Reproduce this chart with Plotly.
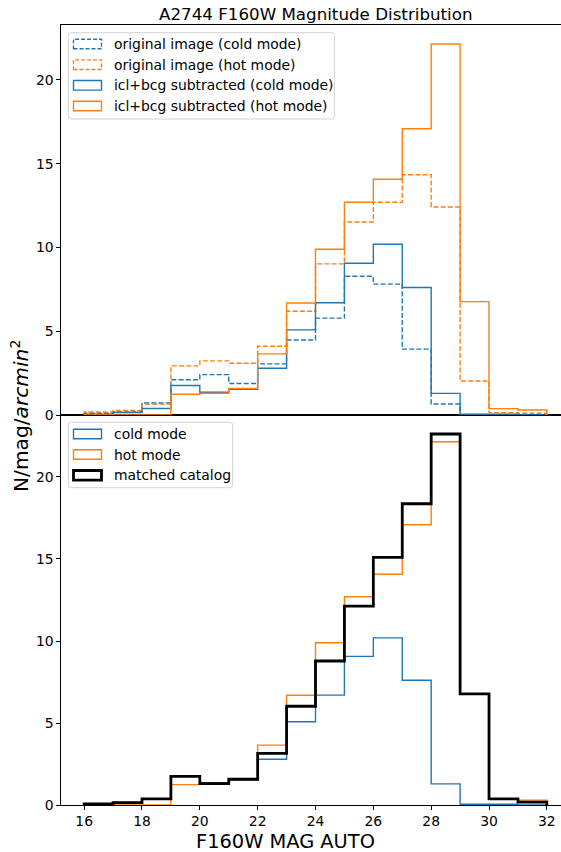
import plotly.graph_objects as go

# Magnitude bins (F160W MAG AUTO)
bin_edges = [16, 17, 18, 19, 20, 21, 22, 23, 24, 25, 26, 27, 28, 29, 30, 31, 32]

# Number density per bin, N/mag/arcmin^2
orig_cold = [0.10, 0.18, 0.72, 2.10, 2.41, 1.88, 3.05, 4.48, 5.78, 8.28, 7.81, 3.93, 0.66, 0.0, 0.0, 0.0]
orig_hot = [0.18, 0.27, 0.66, 2.93, 3.23, 3.09, 4.10, 6.19, 9.02, 11.52, 12.70, 14.34, 12.42, 2.03, 0.14, 0.10]
icl_cold = [0.05, 0.15, 0.39, 1.76, 1.36, 1.54, 2.79, 5.08, 6.70, 9.06, 10.19, 7.61, 1.29, 0.05, 0.05, 0.0]
icl_hot = [0.0, 0.0, 0.0, 1.24, 1.30, 1.58, 3.65, 6.69, 9.89, 12.70, 14.07, 17.09, 22.15, 6.77, 0.38, 0.30]
matched = [0.06, 0.14, 0.37, 1.75, 1.30, 1.57, 3.15, 6.02, 8.78, 12.13, 15.10, 18.37, 22.62, 6.77, 0.37, 0.18]

BLUE = "#1f77b4"
ORANGE = "#ff7f0e"
FONT = "DejaVu Sans"

W, H = 561, 852
L, R, T, B = 61, 0, 25, 47
PW, PH = W - L - R, H - T - B


def px(x):
    return (x - L) / PW


def py(y):
    return (H - B - y) / PH


def step_xy(edges, values):
    # outline of a step histogram: up from zero, across each bin, back to zero
    xs = [edges[0]] + list(edges)
    ys = [0] + list(values) + [0]
    return xs, ys


fig = go.Figure()


def add_step(values, color, width, dash, xa, ya):
    xs, ys = step_xy(bin_edges, values)
    fig.add_trace(go.Scatter(
        x=xs, y=ys, mode="lines", line_shape="hv",
        line=dict(color=color, width=width, dash=dash),
        xaxis=xa, yaxis=ya, showlegend=False, hoverinfo="skip",
    ))


DASH = "5px,2.2px"
# upper panel
add_step(orig_cold, BLUE, 1.4, DASH, "x2", "y2")
add_step(orig_hot, ORANGE, 1.4, DASH, "x2", "y2")
add_step(icl_cold, BLUE, 1.4, "solid", "x2", "y2")
add_step(icl_hot, ORANGE, 1.4, "solid", "x2", "y2")
# lower panel
add_step(icl_cold, BLUE, 1.4, "solid", "x", "y")
add_step(icl_hot, ORANGE, 1.4, "solid", "x", "y")
add_step(matched, "black", 2.8, "solid", "x", "y")

axis_common = dict(
    showline=True, linecolor="black", linewidth=1.1,
    ticks="outside", ticklen=3.5, tickwidth=1.1, tickcolor="black",
    showgrid=False, zeroline=False,
    tickfont=dict(family=FONT, size=13.9, color="black"),
)

xmax = 15.2 + PW / 28.92

fig.update_layout(
    width=W, height=H,
    margin=dict(l=L, r=R, t=T, b=B),
    paper_bgcolor="white", plot_bgcolor="white",
    font=dict(family=FONT, color="black"),
    xaxis=dict(axis_common, domain=[0, 1], anchor="y", range=[15.2, xmax],
               tickvals=[16, 18, 20, 22, 24, 26, 28, 30, 32], mirror=True),
    yaxis=dict(axis_common, domain=[0, 0.5], anchor="x", range=[0, 23.78],
               tickvals=[0, 5, 10, 15, 20]),
    xaxis2=dict(axis_common, domain=[0, 1], anchor="y2", matches="x",
                range=[15.2, xmax], showticklabels=False, ticks="", mirror=True),
    yaxis2=dict(axis_common, domain=[0.5, 1], anchor="x2", range=[0, 23.28],
                tickvals=[0, 5, 10, 15, 20]),
)

annotations = []
shapes = []

# title and axis labels
annotations.append(dict(
    text="A2744 F160W Magnitude Distribution", xref="paper", yref="paper",
    x=px(316), y=py(14), xanchor="center", yanchor="middle", showarrow=False,
    font=dict(family=FONT, size=16.7, color="black"),
))
annotations.append(dict(
    text="F160W MAG AUTO", xref="paper", yref="paper",
    x=px(285), y=py(841), xanchor="center", yanchor="middle", showarrow=False,
    font=dict(family=FONT, size=19.4, color="black"),
))
annotations.append(dict(
    text="N/mag/<i>arcmin</i><sup>2</sup>", xref="paper", yref="paper",
    x=px(20), y=py(416), xanchor="center", yanchor="middle", showarrow=False,
    textangle=-90, font=dict(family=FONT, size=20.2, color="black"),
))


def rounded_rect_path(x0, y0, x1, y1, r):
    # x0,y0 top-left and x1,y1 bottom-right in pixels; path in paper units
    X0, X1 = px(x0), px(x1)
    Y0, Y1 = py(y0), py(y1)
    rx, ry = r / PW, r / PH
    return (
        f"M {X0 + rx},{Y0} L {X1 - rx},{Y0} Q {X1},{Y0} {X1},{Y0 - ry} "
        f"L {X1},{Y1 + ry} Q {X1},{Y1} {X1 - rx},{Y1} "
        f"L {X0 + rx},{Y1} Q {X0},{Y1} {X0},{Y1 + ry} "
        f"L {X0},{Y0 - ry} Q {X0},{Y0} {X0 + rx},{Y0} Z"
    )


def legend_box(x0, y0, x1, y1, entries):
    shapes.append(dict(
        type="path", xref="paper", yref="paper",
        path=rounded_rect_path(x0, y0, x1, y1, 3),
        line=dict(color="#d3d3d3", width=1), fillcolor="rgba(255,255,255,0.8)",
        layer="above",
    ))
    for yc, label, color, width, dash in entries:
        shapes.append(dict(
            type="rect", xref="paper", yref="paper",
            x0=px(73.5), x1=px(101.5), y0=py(yc + 4.8), y1=py(yc - 4.8),
            line=dict(color=color, width=width, dash=dash),
            fillcolor="rgba(0,0,0,0)", layer="above",
        ))
        annotations.append(dict(
            text=label, xref="paper", yref="paper",
            x=px(112), y=py(yc), xanchor="left", yanchor="middle",
            showarrow=False, font=dict(family=FONT, size=13.9, color="black"),
        ))


legend_box(68.3, 32.7, 334.3, 119.0, [
    (44.0, "original image (cold mode)", BLUE, 1.4, "4px,2px"),
    (64.7, "original image (hot mode)", ORANGE, 1.4, "4px,2px"),
    (85.3, "icl+bcg subtracted (cold mode)", BLUE, 1.4, "solid"),
    (106.0, "icl+bcg subtracted (hot mode)", ORANGE, 1.4, "solid"),
])
legend_box(68.3, 422.3, 232.7, 487.7, [
    (434.0, "cold mode", BLUE, 1.4, "solid"),
    (454.5, "hot mode", ORANGE, 1.4, "solid"),
    (475.3, "matched catalog", "black", 2.8, "solid"),
])

fig.update_layout(annotations=annotations, shapes=shapes)

fig.write_html("out.html")
